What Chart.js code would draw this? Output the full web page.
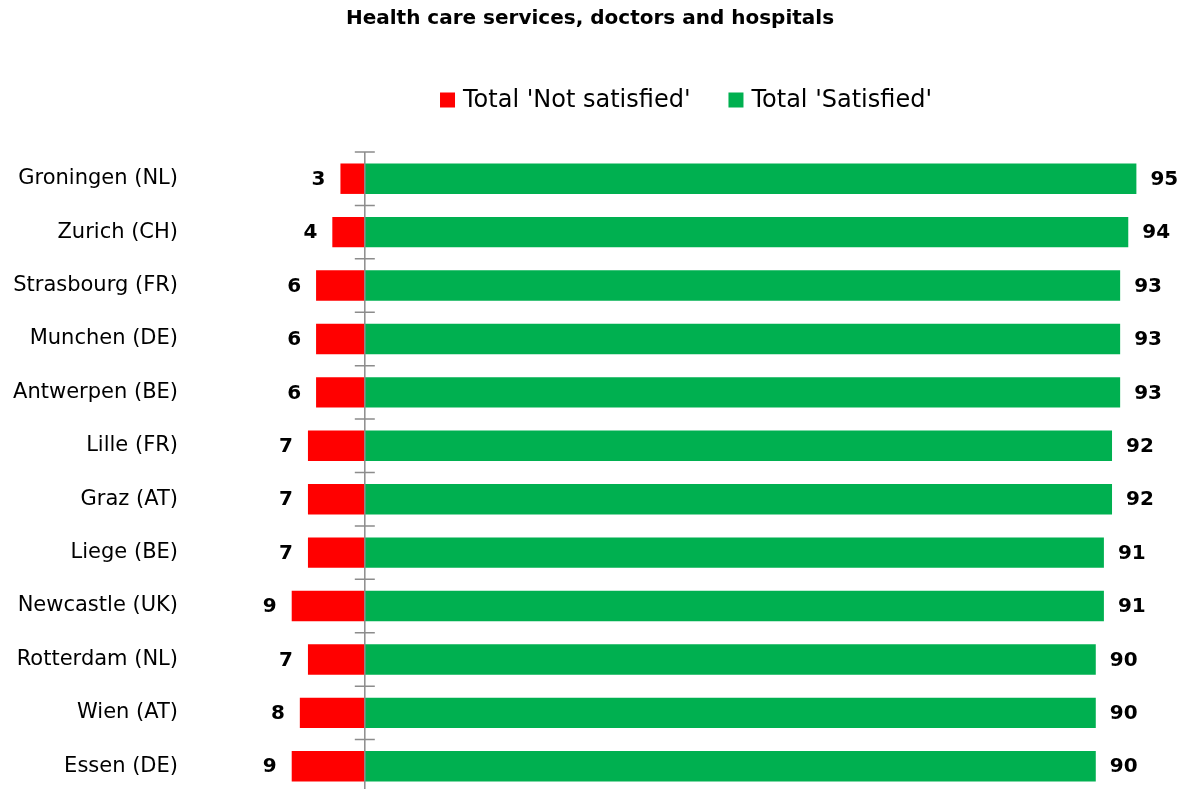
<!DOCTYPE html>
<html>
<head>
<meta charset="utf-8">
<script src="https://cdn.jsdelivr.net/npm/chart.js@4.4.1/dist/chart.umd.min.js"></script>
<style>
html,body{margin:0;padding:0;overflow:hidden;background:#fff;}
canvas{display:block;}
</style>
</head>
<body>
<canvas id="c" width="1189" height="810"></canvas>
<script>
const categories = ["Groningen (NL)","Zurich (CH)","Strasbourg (FR)","Munchen (DE)","Antwerpen (BE)","Lille (FR)","Graz (AT)","Liege (BE)","Newcastle (UK)","Rotterdam (NL)","Wien (AT)","Essen (DE)"];
const notSatisfied = [3,4,6,6,6,7,7,7,9,7,8,9];
const satisfied = [95,94,93,93,93,92,92,91,91,90,90,90];
const seriesNames = ["Total 'Not satisfied'","Total 'Satisfied'"];
const chartTitle = "Health care services, doctors and hospitals";
const RED = "#FF0000", GREEN = "#00B050";
const FONT = "'DejaVu Sans', Verdana, sans-serif";

const titleLegendPlugin = {
  id: 'titleLegend',
  afterDraw(chart) {
    const ctx = chart.ctx;
    ctx.save();
    ctx.fillStyle = '#000';
    ctx.font = "bold 20px " + FONT;
    ctx.textAlign = 'center';
    ctx.textBaseline = 'middle';
    ctx.fillText(chartTitle, 590, 19);
    // legend
    ctx.font = "24px " + FONT;
    const colors = [RED, GREEN];
    const box = 15, gap = 8, itemGap = 38;
    const widths = seriesNames.map(s => ctx.measureText(s).width);
    const total = widths.reduce((a,w)=>a+box+gap+w,0) + itemGap*(seriesNames.length-1);
    let x = 686 - total/2;
    const y = 100;
    ctx.textAlign = 'left';
    seriesNames.forEach((s,i)=>{
      ctx.fillStyle = colors[i];
      ctx.fillRect(x, y-7.5, box, box);
      x += box + gap;
      ctx.fillStyle = '#000';
      ctx.fillText(s, x, y+1);
      x += widths[i] + itemGap;
    });
    ctx.restore();
  }
};

const axisPlugin = {
  id: 'zeroAxis',
  afterDatasetsDraw(chart) {
    const ctx = chart.ctx;
    const xs = chart.scales.x, ys = chart.scales.y;
    const x0 = xs.getPixelForValue(0);
    const top = chart.chartArea.top, bottom = chart.chartArea.bottom;
    ctx.save();
    ctx.strokeStyle = '#8c8c8c';
    ctx.lineWidth = 1.5;
    ctx.beginPath();
    ctx.moveTo(x0, top);
    ctx.lineTo(x0, bottom + 10);
    const n = categories.length;
    const step = (ys.getPixelForValue(n-1) - ys.getPixelForValue(0)) / (n-1);
    for (let i = 0; i <= n; i++) {
      const yy = ys.getPixelForValue(0) - step/2 + i*step;
      ctx.moveTo(x0 - 10, yy);
      ctx.lineTo(x0 + 10, yy);
    }
    ctx.stroke();
    ctx.restore();
  }
};

const labelPlugin = {
  id: 'valueLabels',
  afterDatasetsDraw(chart) {
    const ctx = chart.ctx;
    ctx.save();
    ctx.font = "bold 20px " + FONT;
    ctx.fillStyle = '#000';
    ctx.textBaseline = 'middle';
    chart.data.datasets.forEach((ds, di) => {
      const meta = chart.getDatasetMeta(di);
      meta.data.forEach((el, i) => {
        const v = Math.abs(ds.data[i]);
        if (di === 0) {
          ctx.textAlign = 'right';
          ctx.fillText(String(v), el.x - 15, el.y + 1);
        } else {
          ctx.textAlign = 'left';
          ctx.fillText(String(v), el.x + 14, el.y + 1);
        }
      });
    });
    ctx.restore();
  }
};

new Chart(document.getElementById('c'), {
  type: 'bar',
  data: {
    labels: categories,
    datasets: [
      { label: seriesNames[0], data: notSatisfied.map(v => -v), backgroundColor: RED, borderWidth: 0 },
      { label: seriesNames[1], data: satisfied, backgroundColor: GREEN, borderWidth: 0 }
    ]
  },
  options: {
    indexAxis: 'y',
    responsive: false,
    animation: false,
    layout: { padding: { top: 152, right: 12, bottom: 17, left: 0 } },
    datasets: { bar: { categoryPercentage: 1, barPercentage: 0.57 } },
    plugins: { legend: { display: false }, title: { display: false }, tooltip: { enabled: false } },
    scales: {
      x: { stacked: true, min: -23, max: 100, display: false },
      y: {
        stacked: true,
        grid: { display: false, drawTicks: false, tickLength: 0 },
        border: { display: false },
        ticks: { color: '#000', font: { family: FONT, size: 21 }, padding: 0 },
        afterFit(scale) { scale.width = 178; }
      }
    }
  },
  plugins: [titleLegendPlugin, axisPlugin, labelPlugin]
});
</script>
</body>
</html>
